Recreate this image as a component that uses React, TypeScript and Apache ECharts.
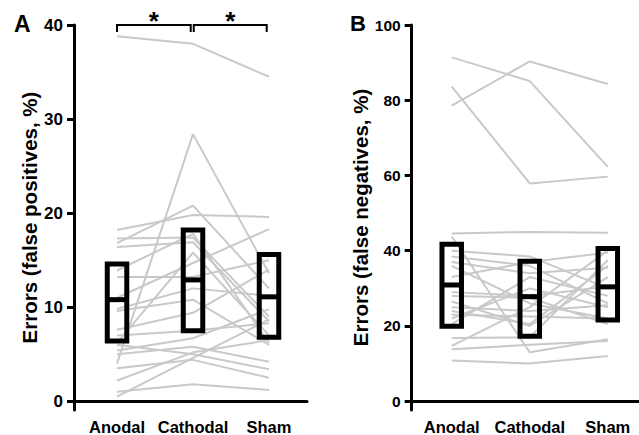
import React, { useEffect, useRef } from "react";
import * as echarts from "echarts";

const categories = ["Anodal", "Cathodal", "Sham"];

// Panel A: errors (false positives, %), one entry per subject
const anodalA = [38.8, 4.0, 16.8, 18.2, 17.3, 11.0, 13.9, 13.2, 16.4, 9.8, 9.6, 7.6, 7.0, 6.2, 6.0, 5.4, 5.0, 2.2, 1.0, 0.5, 3.5];
const cathodalA = [38.0, 28.4, 20.8, 19.8, 17.4, 14.7, 17.8, 13.2, 16.9, 12.0, 10.8, 9.4, 7.5, 15.8, 5.0, 6.7, 5.8, 5.2, 1.8, 4.6, 4.4];
const shamA = [34.5, 13.6, 12.0, 19.6, 9.0, 18.3, 6.2, 15.0, 8.5, 11.2, 6.0, 14.0, 8.3, 7.0, 3.4, 9.8, 4.2, 6.5, 1.2, 8.7, 2.5];

// Panel B: errors (false negatives, %)
const anodalB = [91.4, 78.6, 83.6, 44.6, 43.8, 40.0, 38.5, 37.0, 36.0, 33.0, 29.0, 28.0, 26.5, 25.0, 23.0, 22.0, 20.5, 16.8, 14.7, 13.8, 10.8, 24.0];
const cathodalB = [85.1, 90.3, 57.9, 45.0, 13.0, 38.5, 36.0, 34.0, 26.0, 37.0, 28.0, 27.5, 20.0, 24.0, 22.5, 30.0, 33.0, 17.0, 25.0, 15.0, 10.0, 20.5];
const shamB = [62.3, 84.3, 59.7, 44.8, 16.5, 30.0, 26.0, 35.5, 22.0, 39.5, 30.5, 20.5, 33.0, 25.5, 22.0, 25.0, 28.0, 37.5, 40.0, 16.0, 12.0, 36.0];

// Summary boxes: [low, middle, high] per condition
const boxLowA = [6.4, 7.5, 6.8];
const boxMidA = [10.8, 12.9, 11.1];
const boxHighA = [14.6, 18.2, 15.6];
const boxLowB = [19.9, 17.3, 21.6];
const boxMidB = [30.9, 27.8, 30.4];
const boxHighB = [41.7, 37.2, 40.6];

// Significance brackets in panel A: [from, to, level]
const bracketsA = [
  [0, 0.97, 40],
  [1.01, 1.97, 40],
];

const ticksA = [0, 10, 20, 30, 40];
const ticksB = [0, 20, 40, 60, 80, 100];

const FONT = "'Liberation Sans', Arial, sans-serif";

function lineSeries(a: number[], c: number[], s: number[], axis: number) {
  return a.map((v, i) => ({
    type: "line",
    xAxisIndex: axis,
    yAxisIndex: axis,
    data: [
      [0, v],
      [1, c[i]],
      [2, s[i]],
    ],
    symbol: "none",
    silent: true,
    lineStyle: { color: "#c9c9c9", width: 2 },
    z: 1,
  }));
}

function boxSeries(lo: number[], mid: number[], hi: number[], axis: number) {
  return {
    type: "custom",
    xAxisIndex: axis,
    yAxisIndex: axis,
    z: 5,
    data: lo.map((v, i) => [i, v, mid[i], hi[i]]),
    encode: { x: 0, y: [1, 2, 3] },
    renderItem: (params: any, api: any) => {
      const x = api.value(0);
      const pLo = api.coord([x, api.value(1)]);
      const pMid = api.coord([x, api.value(2)]);
      const pHi = api.coord([x, api.value(3)]);
      const w = 19.5;
      return {
        type: "group",
        children: [
          {
            type: "rect",
            shape: { x: pHi[0] - w / 2, y: pHi[1], width: w, height: pLo[1] - pHi[1] },
            style: { fill: "none", stroke: "#000", lineWidth: 5, lineJoin: "miter" },
          },
          {
            type: "line",
            shape: { x1: pMid[0] - w / 2, y1: pMid[1], x2: pMid[0] + w / 2, y2: pMid[1] },
            style: { stroke: "#000", lineWidth: 5 },
          },
        ],
      };
    },
  };
}

function yAxis(grid: number, min: number, max: number, ticks: number[], name: string, labelSize: number) {
  return {
    type: "value",
    gridIndex: grid,
    min,
    max,
    name,
    nameLocation: "middle",
    nameGap: 34,
    nameTextStyle: { fontFamily: FONT, fontWeight: "bold", fontSize: 20.5, color: "#000" },
    axisLine: { show: true, onZero: false, lineStyle: { color: "#000", width: 3 } },
    axisTick: { show: true, customValues: ticks, length: 7, lineStyle: { color: "#000", width: 3 } },
    axisLabel: {
      customValues: ticks,
      margin: 11,
      fontFamily: FONT,
      fontWeight: "bold",
      fontSize: labelSize,
      color: "#000",
    },
    splitLine: { show: false },
  };
}

function xAxis(grid: number, min: number, max: number) {
  return {
    type: "value",
    gridIndex: grid,
    min,
    max,
    axisLine: { show: true, onZero: true, lineStyle: { color: "#000", width: 3 } },
    axisTick: { show: false },
    axisLabel: {
      customValues: [0, 1, 2],
      formatter: (v: number) => categories[Math.round(v)] ?? "",
      margin: 8,
      fontFamily: FONT,
      fontWeight: "bold",
      fontSize: 16.5,
      color: "#000",
    },
    splitLine: { show: false },
  };
}

export default function App() {
  const ref = useRef<HTMLDivElement>(null);
  useEffect(() => {
    if (!ref.current) return;
    const chart = echarts.init(ref.current, undefined, { renderer: "svg" });
    const option: any = {
      animation: false,
      backgroundColor: "#fff",
      grid: [
        { left: 74, top: 25, width: 233, height: 395.7 },
        { left: 411.7, top: 25, width: 227.3, height: 395.7 },
      ],
      xAxis: [xAxis(0, -0.566, 2.5), xAxis(1, -0.513, 2.4)],
      yAxis: [
        yAxis(0, -0.93, 40, ticksA, "Errors (false positives, %)", 17),
        yAxis(1, -2.33, 100, ticksB, "Errors (false negatives, %)", 15.5),
      ],
      graphic: [
        {
          type: "text",
          left: 14,
          top: 12,
          style: { text: "A", font: `bold 23px ${FONT}`, fill: "#000" },
        },
        {
          type: "text",
          left: 350,
          top: 12,
          style: { text: "B", font: `bold 22px ${FONT}`, fill: "#000" },
        },
      ],
      series: [
        ...lineSeries(anodalA, cathodalA, shamA, 0),
        ...lineSeries(anodalB, cathodalB, shamB, 1),
        boxSeries(boxLowA, boxMidA, boxHighA, 0),
        boxSeries(boxLowB, boxMidB, boxHighB, 1),
        {
          type: "custom",
          xAxisIndex: 0,
          yAxisIndex: 0,
          z: 6,
          data: bracketsA,
          encode: { x: [0, 1], y: 2 },
          renderItem: (params: any, api: any) => {
            const p1 = api.coord([api.value(0), api.value(2)]);
            const p2 = api.coord([api.value(1), api.value(2)]);
            return {
              type: "group",
              children: [
                {
                  type: "polyline",
                  shape: {
                    points: [
                      [p1[0], p1[1] + 7],
                      [p1[0], p1[1]],
                      [p2[0], p2[1]],
                      [p2[0], p2[1] + 7],
                    ],
                  },
                  style: { stroke: "#000", lineWidth: 2, fill: "none" },
                },
                {
                  type: "text",
                  x: (p1[0] + p2[0]) / 2,
                  y: p1[1] - 4,
                  style: {
                    text: "*",
                    font: `bold 26px ${FONT}`,
                    fill: "#000",
                    align: "center",
                    verticalAlign: "middle",
                  },
                },
              ],
            };
          },
        },
      ],
    };
    chart.setOption(option);
    return () => chart.dispose();
  }, []);
  return (
    <div
      ref={ref}
      style={{ position: "fixed", left: 0, top: 0, width: 639, height: 435 }}
    />
  );
}
